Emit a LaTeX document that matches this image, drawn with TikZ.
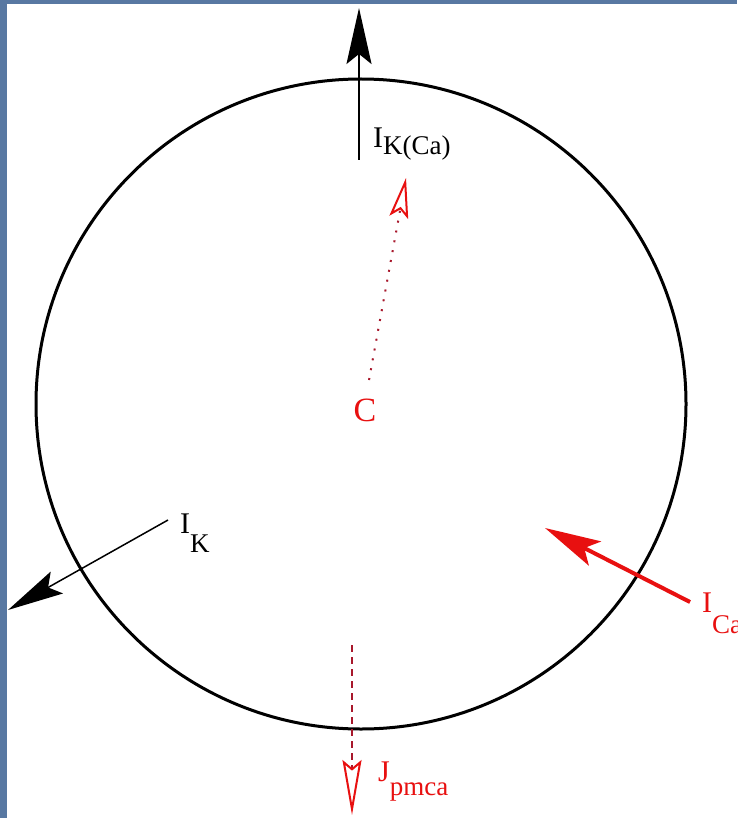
\documentclass[tikz,border=0pt]{standalone}
\usepackage{fontspec}
\setmainfont{Liberation Serif}
\usetikzlibrary{arrows.meta}
\definecolor{slideblue}{RGB}{88,120,162}
\definecolor{ionred}{RGB}{232,16,16}
\definecolor{dotred}{RGB}{168,24,44}
\newcommand{\curlabel}[3]{{\fontsize{30}{30}\selectfont #1}\raisebox{-#3pt}{\fontsize{27}{27}\selectfont #2}}
\begin{document}
\begin{tikzpicture}[x=1pt,y=-1pt]
        \tikzset{
            membrane/.style={line width=3pt},
            lbl/.style={inner sep=0pt,anchor=base west},
            outhead/.style={-{Stealth[length=56pt,width=25pt,inset=10pt]}},
            openhead/.style={-{Stealth[open,length=#1,width=19pt,inset=8pt,color=ionred,line width=2pt]}}
        }

        \useasboundingbox (0,0) rectangle (737,818);
        \fill[slideblue] (0,0) rectangle (737,818);
        \fill[white] (7,4) rectangle (737,818);

        % cell
        \draw[membrane] (361,404) circle[radius=325];

        % potassium currents
        \coordinate (kcaS) at (359,160);
        \coordinate (kcaE) at (359,8);
        \draw[line width=2pt,outhead] (kcaS) -- (kcaE);
        \node[lbl] (kcaL) at (373,148) {\curlabel{I}{K(Ca)}{7}};

        \coordinate (kS) at (168,520);
        \coordinate (kE) at (8,610);
        \draw[line width=1.5pt,outhead] (kS) -- (kE);
        \node[lbl] (kL) at (180,533) {\curlabel{I}{K}{19}};

        % calcium
        \coordinate (caS) at (690,602);
        \coordinate (caE) at (545,528);
        \draw[ionred,line width=4pt,-{Stealth[length=56pt,width=27pt,inset=12pt]}] (caS) -- (caE);
        \node[lbl,text=ionred] (caL) at (702,612) {\curlabel{I}{Ca}{21}};

        \node[text=ionred,inner sep=0pt,font=\fontsize{34}{34}\selectfont] (cL) at (365,410) {C};
        \coordinate (cS) at (369,380);
        \coordinate (cE) at (406,178);
        \draw[dotred,line width=2pt,dash pattern=on 2pt off 8pt,openhead=40pt] (cS) -- (cE);

        \coordinate (pmS) at (352,645);
        \coordinate (pmE) at (352,815);
        \draw[dotred,line width=1.4pt,dash pattern=on 7pt off 5pt,openhead=55pt] (pmS) -- (pmE);
        \node[lbl,text=ionred] (pmL) at (378,781) {\curlabel{J}{pmca}{14}};
\end{tikzpicture}
\end{document}
